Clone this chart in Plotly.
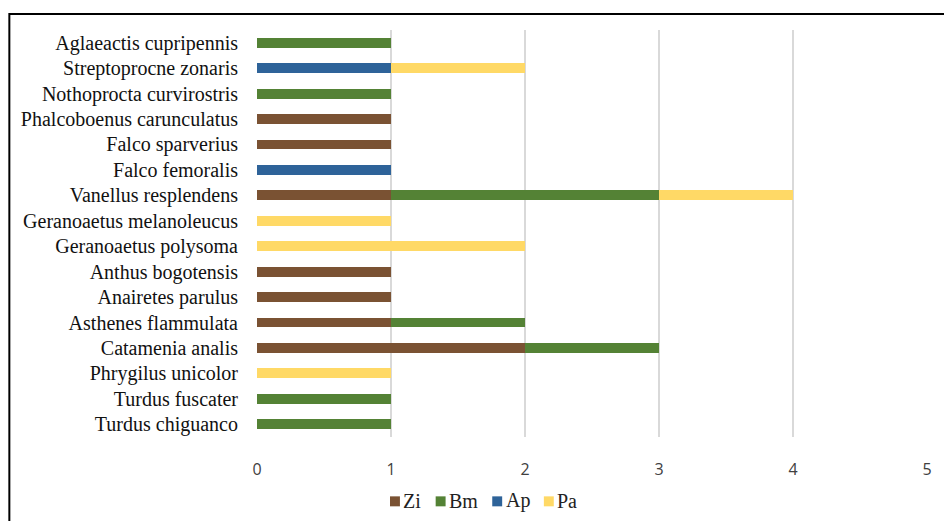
import plotly.graph_objects as go

species = ["Turdus chiguanco", "Turdus fuscater", "Phrygilus unicolor", "Catamenia analis",
           "Asthenes flammulata", "Anairetes parulus", "Anthus bogotensis", "Geranoaetus polysoma",
           "Geranoaetus melanoleucus", "Vanellus resplendens", "Falco femoralis", "Falco sparverius",
           "Phalcoboenus carunculatus", "Nothoprocta curvirostris", "Streptoprocne zonaris",
           "Aglaeactis cupripennis"]
zi = [0, 0, 0, 2, 1, 1, 1, 0, 0, 1, 0, 1, 1, 0, 0, 0]
bm = [1, 1, 0, 1, 1, 0, 0, 0, 0, 2, 0, 0, 0, 1, 0, 1]
ap = [0, 0, 0, 0, 0, 0, 0, 0, 0, 0, 1, 0, 0, 0, 1, 0]
pa = [0, 0, 1, 0, 0, 0, 0, 2, 1, 1, 0, 0, 0, 0, 1, 0]
series_names = ["Zi", "Bm", "Ap", "Pa"]
series_values = [zi, bm, ap, pa]
series_colors = ["#7a5233", "#548235", "#2e6399", "#ffd966"]
x_ticks = [0, 1, 2, 3, 4, 5]

fig = go.Figure()
for name, vals, col in zip(series_names, series_values, series_colors):
    fig.add_trace(go.Bar(y=species, x=vals, name=name, orientation="h", showlegend=False,
                         marker=dict(color=col, line=dict(width=0)), width=0.39))

L, R, T, B = 257, 12, 29.5, 83.5
W, H = 944, 521
pw, ph = W - L - R, H - T - B

def px(x):
    return (x - L) / pw

def py(y):
    return (H - B - y) / ph

# outer frame
fig.add_shape(type="rect", xref="paper", yref="paper",
              x0=px(7.5), x1=px(980), y0=py(560), y1=py(13.5),
              line=dict(color="black", width=2), fillcolor="rgba(0,0,0,0)", layer="above")

# legend (drawn manually to match the compact spacing)
legend_sym_x = [391, 437, 494, 546]
for name, col, sx in zip(series_names, series_colors, legend_sym_x):
    fig.add_shape(type="rect", xref="paper", yref="paper",
                  x0=px(sx), x1=px(sx + 10), y0=py(507), y1=py(497),
                  line=dict(width=0), fillcolor=col)
    fig.add_annotation(xref="paper", yref="paper", x=px(sx + 11.5), y=py(501.5),
                       xanchor="left", yanchor="middle", showarrow=False, text=name,
                       font=dict(family="Liberation Serif", size=20, color="#222"))

fig.update_layout(
    barmode="stack",
    width=W, height=H,
    margin=dict(l=L, r=R, t=T, b=B),
    paper_bgcolor="white", plot_bgcolor="white",
    bargap=0.6,
    showlegend=False,
    xaxis=dict(range=[0, 5], tickvals=x_ticks, showgrid=True, gridcolor="#d9d9d9", gridwidth=2,
               zeroline=False, showline=False, ticks="", ticklabelstandoff=21,
               tickfont=dict(family="Open Sans", size=16, color="#404040")),
    yaxis=dict(showgrid=False, zeroline=False, showline=False, ticks="", ticklabelstandoff=18,
               tickfont=dict(family="Liberation Serif", size=20, color="#111"),
               range=[-0.5, 15.5]),
)
fig.write_html("out.html")
